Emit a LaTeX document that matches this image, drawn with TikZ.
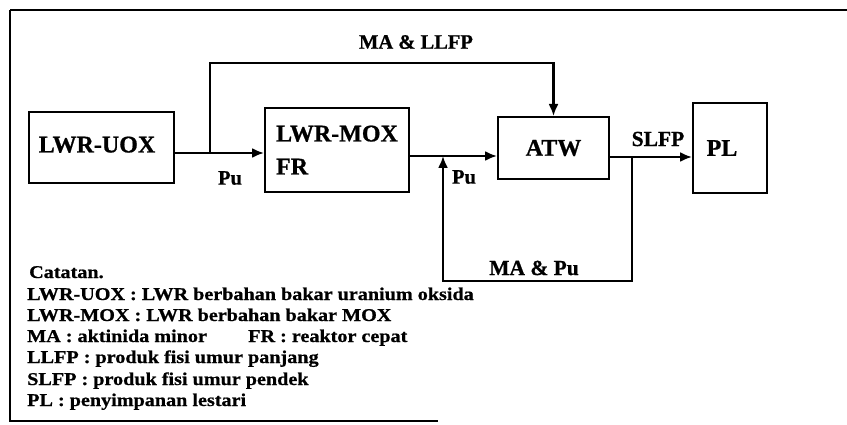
\documentclass[tikz,border=0pt]{standalone}
\usepackage{fontspec}
\setmainfont{Liberation Serif}[BoldFeatures={FakeBold=0.8}]
\newfontfamily\legfont{Liberation Serif}[FakeStretch=1.12, BoldFeatures={FakeBold=0.8}]
\usetikzlibrary{arrows.meta}
\begin{document}
\begin{tikzpicture}[x=1pt,y=-1pt,
  frame/.style={line width=1.8pt},
  box/.style={draw, line width=2pt, inner sep=0pt,
    font=\bfseries\fontsize{24}{33}\selectfont, align=left},
  flow/.style={line width=2.2pt},
  arr/.style={flow, -{Latex[length=12pt,width=10pt]}},
  lbl/.style={font=\bfseries\fontsize{20.5}{24}\selectfont, inner sep=0pt},
  leg/.style={font=\legfont\bfseries\fontsize{18}{21}\selectfont, anchor=base west, inner sep=0pt}]
\useasboundingbox (0,0) rectangle (847,425);
% outer frame
\draw[frame] (10,10) -- (847,10);
\draw[frame] (10,10) -- (10,421) -- (438,421);
% boxes
\node[box, minimum width=145pt, minimum height=71pt] (uox) at (101.5,147.5) {\raisebox{6pt}{\hspace*{-9pt}LWR-UOX}};
\node[box, minimum width=144pt, minimum height=84pt] (mox) at (337,150) {LWR-MOX\\FR};
\node[box, minimum width=111pt, minimum height=62pt] (atw) at (553.5,148) {ATW};
\node[box, minimum width=74pt, minimum height=90pt] (pl) at (730,148) {\hspace*{-16pt}PL};
% helper coordinates
\coordinate (yA) at (0,153);
\coordinate (yB) at (0,156);
\coordinate (yC) at (0,157);
\coordinate (br) at (210,153);
\coordinate (tp) at (210,63);
\coordinate (fb1) at (632,157);
\coordinate (fb3) at (443,281);
\coordinate (fb4) at (443,156);
% connectors
\draw[arr] (uox.east |- yA) -- (mox.west |- yA);
\draw[arr] (br) -- (tp) -| (atw.north);
\draw[arr] (mox.east |- yB) -- (atw.west |- yB);
\draw[arr] (atw.east |- yC) -- (pl.west |- yC);
\draw[arr] (fb1) |- (fb3) -- (fb4);
% labels
\node[lbl] (lmall) at (416,42) {MA \& LLFP};
\node[lbl] (lpu1) at (230,178) {Pu};
\node[lbl] (lpu2) at (464,177) {Pu};
\node[lbl, font=\bfseries\fontsize{21.5}{24}\selectfont] (lslfp) at (658,139) {SLFP};
\node[lbl, font=\bfseries\fontsize{21.5}{24}\selectfont] (lmapu) at (534,268) {MA \& Pu};
% legend
\node[leg] (g1) at (29,278) {Catatan.};
\node[leg] (g2) at (27,300) {LWR-UOX : LWR berbahan bakar uranium oksida};
\node[leg] (g3) at (27,321) {LWR-MOX : LWR berbahan bakar MOX};
\node[leg] (g4) at (27,342) {MA : aktinida minor};
\node[leg] (g4b) at (248,342) {FR : reaktor cepat};
\node[leg] (g5) at (27,363) {LLFP : produk fisi umur panjang};
\node[leg] (g6) at (27,385) {SLFP : produk fisi umur pendek};
\node[leg] (g7) at (27,406) {PL : penyimpanan lestari};
\end{tikzpicture}
\end{document}
